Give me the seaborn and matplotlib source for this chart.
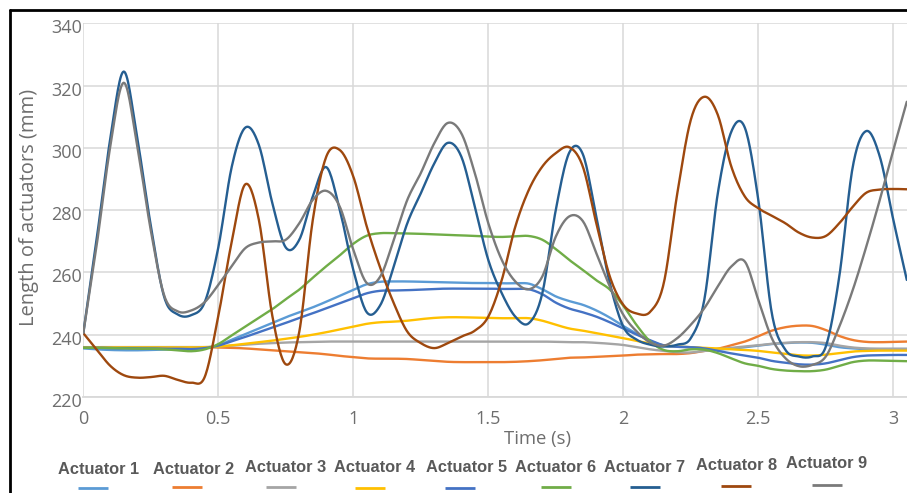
import numpy as np
import pandas as pd
import matplotlib
matplotlib.use("Agg")
import matplotlib.pyplot as plt
import matplotlib.transforms as mtransforms
from matplotlib.lines import Line2D
import seaborn as sns

# ---------------------------------------------------------------- data
# sample times (s), one sample every 0.05 s
time_s = np.round(np.arange(0, 3.051, 0.05), 2)

actuator_1 = [235.6, 235.3, 235.1, 235.0, 235.0, 235.1, 235.2, 235.3, 235.5, 235.8,
              236.6, 238.4, 240.2, 242.0, 243.8, 245.6, 247.2, 248.8, 250.6, 252.5,
              254.4, 256.2, 257.0, 257.1, 257.1, 257.0, 256.9, 256.8, 256.7, 256.6,
              256.6, 256.5, 256.5, 256.4, 254.6, 252.3, 250.8, 249.6, 247.8, 245.5,
              242.8, 240.3, 238.0, 236.5, 236.2, 236.0, 235.6, 235.3, 235.5, 236.0,
              236.5, 237.0, 237.3, 237.5, 237.4, 236.8, 236.0, 235.6, 235.4, 235.4,
              235.4, 235.4]
actuator_2 = [235.9, 236.0, 236.0, 236.0, 236.0, 236.0, 236.0, 236.0, 236.0, 236.0,
              235.9, 235.8, 235.6, 235.3, 235.0, 234.7, 234.4, 234.1, 233.7, 233.2,
              232.8, 232.4, 232.3, 232.3, 232.2, 231.9, 231.6, 231.3, 231.2, 231.2,
              231.2, 231.2, 231.3, 231.5, 231.8, 232.2, 232.6, 232.7, 232.9, 233.1,
              233.3, 233.6, 233.7, 233.8, 233.8, 234.1, 234.8, 235.5, 236.6, 237.8,
              239.5, 241.3, 242.4, 242.9, 242.8, 241.5, 239.6, 238.3, 237.7, 237.6,
              237.7, 237.8]
actuator_3 = [236.0, 236.0, 236.0, 236.0, 236.0, 236.0, 236.0, 236.0, 236.0, 236.0,
              236.2, 236.5, 236.8, 237.1, 237.3, 237.5, 237.6, 237.7, 237.8, 237.8,
              237.8, 237.8, 237.8, 237.8, 237.8, 237.8, 237.8, 237.8, 237.8, 237.8,
              237.8, 237.8, 237.8, 237.8, 237.8, 237.7, 237.6, 237.6, 237.4, 237.1,
              236.7, 236.0, 235.3, 234.8, 234.4, 234.3, 234.8, 235.3, 235.8, 236.2,
              236.6, 237.1, 237.4, 237.6, 237.6, 237.3, 236.5, 235.9, 235.6, 235.5,
              235.5, 235.5]
actuator_4 = [235.9, 235.9, 235.9, 235.9, 235.9, 235.9, 235.9, 235.9, 235.9, 236.0,
              236.2, 236.6, 237.1, 237.6, 238.1, 238.7, 239.3, 240.0, 240.8, 241.7,
              242.6, 243.5, 244.0, 244.2, 244.5, 245.0, 245.4, 245.6, 245.6, 245.5,
              245.4, 245.3, 245.3, 245.3, 244.5, 243.2, 242.0, 241.3, 240.5, 239.7,
              238.9, 238.0, 237.2, 236.6, 236.2, 236.0, 235.8, 235.6, 235.3, 235.1,
              234.8, 234.3, 233.9, 233.4, 233.3, 233.6, 234.1, 234.6, 234.8, 234.9,
              234.9, 234.9]
actuator_5 = [235.8, 235.8, 235.7, 235.7, 235.6, 235.6, 235.5, 235.5, 235.4, 235.7,
              236.5, 237.9, 239.3, 240.8, 242.3, 243.8, 245.4, 246.9, 248.5, 250.1,
              251.7, 253.3, 254.1, 254.2, 254.3, 254.5, 254.7, 254.8, 254.8, 254.8,
              254.8, 254.7, 254.7, 254.6, 253.0, 250.3, 248.4, 247.2, 245.8, 244.0,
              242.0, 240.0, 238.2, 236.6, 236.1, 236.0, 235.6, 234.8, 234.0, 233.3,
              232.6, 231.6, 231.0, 230.5, 230.4, 230.8, 231.8, 232.8, 233.3, 233.4,
              233.5, 233.5]
actuator_6 = [235.8, 235.8, 235.7, 235.6, 235.5, 235.5, 235.3, 235.0, 234.7, 235.3,
              237.0, 239.8, 242.6, 245.4, 248.2, 251.4, 254.5, 258.3, 262.0, 265.5,
              269.2, 271.8, 272.6, 272.6, 272.5, 272.4, 272.2, 272.0, 271.9, 271.7,
              271.5, 271.4, 271.6, 271.7, 270.5, 267.5, 264.0, 260.8, 257.5, 254.5,
              249.3, 243.0, 237.8, 235.1, 234.7, 235.3, 235.2, 234.1, 232.4, 230.8,
              230.0, 229.0, 228.5, 228.3, 228.3, 228.8, 230.0, 231.2, 231.7, 231.7,
              231.6, 231.5]
actuator_7 = [240.5, 271.0, 303.0, 324.5, 303.0, 275.0, 252.0, 246.5, 246.3, 250.5,
              268.0, 294.0, 306.5, 301.0, 282.3, 268.0, 270.5, 284.4, 293.8, 280.1,
              260.8, 247.2, 249.5, 261.9, 275.8, 285.4, 295.0, 301.6, 297.2, 281.1,
              264.0, 253.3, 245.8, 243.7, 253.3, 280.1, 298.5, 298.0, 277.9, 256.6,
              242.6, 238.4, 236.8, 236.2, 236.8, 238.9, 251.2, 285.4, 305.2, 306.5,
              283.3, 246.9, 235.2, 233.0, 233.0, 236.2, 258.7, 294.0, 305.4, 297.2,
              276.9, 257.6]
actuator_8 = [240.5, 235.2, 230.0, 227.0, 226.2, 226.4, 226.8, 225.5, 224.6, 226.5,
              246.0, 270.0, 288.3, 277.0, 246.1, 230.5, 241.0, 276.9, 297.2, 299.3,
              290.8, 274.7, 261.4, 250.1, 241.0, 237.3, 235.7, 237.3, 239.4, 241.3,
              245.8, 257.6, 274.7, 286.5, 294.0, 298.3, 300.2, 294.0, 275.8, 258.7,
              249.6, 246.8, 247.4, 256.6, 285.4, 309.0, 316.4, 310.6, 294.0, 284.4,
              280.6, 278.2, 275.8, 272.8, 271.2, 271.7, 275.8, 281.1, 285.6, 286.6,
              286.8, 286.7]
actuator_9 = [240.5, 269.0, 300.5, 320.9, 300.5, 273.5, 252.5, 247.5, 247.8, 250.5,
              256.0, 262.0, 267.8, 269.6, 270.0, 270.5, 275.8, 283.3, 286.2, 281.1,
              267.3, 256.6, 258.7, 270.5, 283.3, 291.9, 301.5, 308.0, 304.7, 291.9,
              275.8, 264.0, 257.1, 254.6, 258.7, 271.5, 278.0, 276.5, 266.2, 255.5,
              246.4, 241.0, 237.5, 236.5, 238.9, 243.2, 248.5, 255.5, 261.9, 263.5,
              251.2, 238.9, 232.5, 229.9, 230.3, 233.0, 242.6, 254.4, 268.3, 283.3,
              299.3, 314.8]

series_names = ["Actuator 1", "Actuator 2", "Actuator 3", "Actuator 4", "Actuator 5",
                "Actuator 6", "Actuator 7", "Actuator 8", "Actuator 9"]
series_values = [actuator_1, actuator_2, actuator_3, actuator_4, actuator_5,
                 actuator_6, actuator_7, actuator_8, actuator_9]
series_colors = ["#5B9BD5", "#ED7D31", "#A5A5A5", "#FFC000", "#4472C4",
                 "#70AD47", "#255E91", "#9E480E", "#7A7A7A"]

y_ticks = [220, 240, 260, 280, 300, 320, 340]
x_ticks = [0, 0.5, 1, 1.5, 2, 2.5, 3]
x_tick_labels = ["0", "0.5", "1", "1.5", "2", "2.5", "3"]


def smoothed(t, y, steps=16):
    """Catmull-Rom curve through the samples (spreadsheet 'smoothed line')."""
    t = np.asarray(t, float)
    y = np.asarray(y, float)
    yp = np.concatenate([[2 * y[0] - y[1]], y, [2 * y[-1] - y[-2]]])
    m = (yp[2:] - yp[:-2]) / 2.0
    ts, ys = [], []
    s = np.linspace(0, 1, steps, endpoint=False)
    h00 = 2 * s**3 - 3 * s**2 + 1
    h10 = s**3 - 2 * s**2 + s
    h01 = -2 * s**3 + 3 * s**2
    h11 = s**3 - s**2
    for i in range(len(y) - 1):
        ts.append(t[i] + s * (t[i + 1] - t[i]))
        ys.append(h00 * y[i] + h10 * m[i] + h01 * y[i + 1] + h11 * m[i + 1])
    ts.append([t[-1]])
    ys.append([y[-1]])
    return np.concatenate(ts), np.concatenate(ys)


frames = []
for name, vals in zip(series_names, series_values):
    tt, yy = smoothed(time_s, vals)
    frames.append(pd.DataFrame({"time": tt, "length": yy, "actuator": name}))
df = pd.concat(frames, ignore_index=True)

# ---------------------------------------------------------------- fonts
sns.set_theme(style="white")
tick_font = ["Open Sans", "DejaVu Sans"]
legend_font = ["Liberation Sans", "DejaVu Sans"]
plt.rcParams["font.family"] = tick_font

W, H = 907, 493
fig = plt.figure(figsize=(W / 100, H / 100), dpi=100)
fig.patch.set_facecolor("white")

ax_left, ax_right, ax_top, ax_bottom = 83.3, 906.8, 23.3, 397.0
ax = fig.add_axes([ax_left / W, 1 - ax_bottom / H,
                   (ax_right - ax_left) / W, (ax_bottom - ax_top) / H])

sns.lineplot(data=df, x="time", y="length", hue="actuator",
             hue_order=series_names, palette=series_colors,
             estimator=None, sort=False, linewidth=1.7, legend=False, ax=ax)

ax.set_xlim(0, 3.05)
ax.set_ylim(220, 340)
ax.set_xticks(x_ticks)
ax.set_xticklabels(x_tick_labels)
ax.set_yticks(y_ticks)
ax.set_yticklabels([str(v) for v in y_ticks])
ax.set_xlabel("")
ax.set_ylabel("")

grid_color = "#D9D9D9"
ax.grid(True, color=grid_color, linewidth=1.1)
ax.set_axisbelow(True)
for side in ["top", "right", "left"]:
    ax.spines[side].set_visible(False)
ax.spines["bottom"].set_color(grid_color)
ax.spines["bottom"].set_linewidth(1.3)

label_color = "#6E6E6E"
ax.tick_params(axis="both", length=0, labelsize=13, labelcolor=label_color)
ax.tick_params(axis="y", pad=1)
ax.tick_params(axis="x", pad=9)
shift = mtransforms.ScaledTranslation(0, -3 / 100, fig.dpi_scale_trans)
for lbl in ax.get_yticklabels():
    lbl.set_transform(lbl.get_transform() + shift)

fig.text(29 / W, 1 - 207 / H, "Length of actuators (mm)", rotation=90,
         ha="center", va="center", fontsize=14.5, color=label_color)
fig.text(538 / W, 1 - 439 / H, "Time (s)", ha="center", va="center",
         fontsize=13.3, color=label_color)

# legend: label above a short colour sample
legend_text_x = [98.5, 194, 286, 375, 467, 556, 645, 737, 827]
legend_text_y = [469, 469, 468, 468, 468, 468, 467, 465, 464]
legend_line_x = [92.5, 187, 281, 370, 460, 556, 645, 736, 827]
legend_line_y = [488, 487, 487, 488, 488, 487, 487, 486, 485]
for name, col, tx, ty, lx, ly in zip(series_names, series_colors, legend_text_x,
                                     legend_text_y, legend_line_x, legend_line_y):
    fig.text(tx / W, 1 - ty / H, name, ha="center", va="center",
             fontsize=11.8, fontweight="bold", color="#595959", family=legend_font)
    fig.add_artist(Line2D([(lx - 15) / W, (lx + 15) / W], [1 - ly / H, 1 - ly / H],
                          color=col, linewidth=2.0, solid_capstyle="butt"))

# outer frame
fig.add_artist(Line2D([9.5 / W, 9.5 / W], [0, 1 - 10 / H], color="black", linewidth=2.0))
fig.add_artist(Line2D([9.5 / W, 1], [1 - 10 / H, 1 - 10 / H], color="black", linewidth=2.0))

fig.savefig("out.png", dpi=100, facecolor="white")
